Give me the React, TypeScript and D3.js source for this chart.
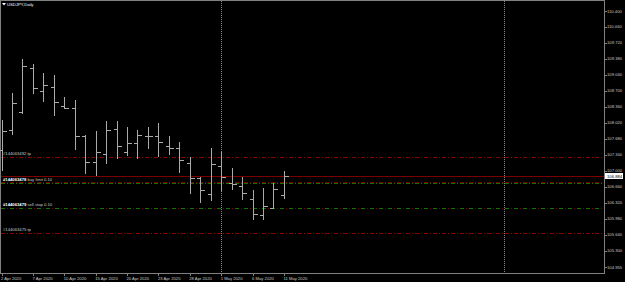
import React from "react";
import * as d3 from "d3";

const symbolTitle = "USDJPY,Daily";

const barDates = [
  "2 Apr 2020", "3 Apr 2020", "6 Apr 2020", "7 Apr 2020", "8 Apr 2020", "9 Apr 2020", "10 Apr 2020",
  "13 Apr 2020", "14 Apr 2020", "15 Apr 2020", "16 Apr 2020", "17 Apr 2020", "20 Apr 2020", "21 Apr 2020",
  "22 Apr 2020", "23 Apr 2020", "24 Apr 2020", "27 Apr 2020", "28 Apr 2020", "29 Apr 2020", "30 Apr 2020",
  "1 May 2020", "4 May 2020", "5 May 2020", "6 May 2020", "7 May 2020", "8 May 2020", "11 May 2020",
];
const opens = [107.446, 107.871, 108.247, 109.195, 108.7, 108.791, 108.388, 108.345, 107.744, 107.191,
  107.361, 107.892, 107.41, 107.601, 107.744, 107.75, 107.531, 107.482, 107.164, 106.845, 106.505,
  107.106, 106.739, 106.675, 106.399, 106.059, 106.22, 106.484];
const highs = [108.084, 108.664, 109.374, 109.267, 109.089, 109.046, 108.566, 108.509, 107.765, 107.85,
  108.062, 108.062, 107.941, 107.871, 107.929, 108.026, 107.744, 107.61, 107.304, 106.866, 107.482,
  107.41, 107.057, 106.879, 106.596, 106.632, 106.751, 107.0];
const lows = [107.021, 107.78, 108.239, 108.664, 108.494, 108.196, 108.332, 107.461, 106.964, 106.915,
  107.164, 107.283, 107.34, 107.27, 107.495, 107.325, 107.355, 106.972, 106.539, 106.335, 106.384,
  106.596, 106.611, 106.399, 105.974, 105.974, 106.207, 106.433];
const closes = [107.85, 108.451, 109.238, 108.77, 108.821, 108.473, 108.345, 107.744, 107.198, 107.404,
  107.871, 107.531, 107.589, 107.765, 107.75, 107.61, 107.482, 107.234, 106.845, 106.596, 107.142,
  106.879, 106.724, 106.526, 106.086, 106.256, 106.617, 106.884];

const priceTickLabels = ["110.400", "110.060", "109.720", "109.380", "109.040", "108.700", "108.360",
  "108.020", "107.680", "107.340", "107.000", "106.660", "106.320", "105.980", "105.640", "105.300", "104.955"];
const bidPrice = 106.884;
const bidLabel = "106.884";

const tpPrices = [107.298, 105.683];
const tpLabels = ["#144063492 tp", "#144063475 tp"];
const orderPrices = [106.745, 106.214];
const orderIds = ["#144063478", "#144063479"];
const orderTexts = [" buy limit 0.10", " sell stop 0.10"];

const dateTickEvery = 3;
const separatorIndices = [21, 48];

const W = 625;
const H = 282;
const axisX = 604;
const axisY = 273;
const FONT = "'Liberation Sans', Arial, sans-serif";

export default function App() {
  const x = d3.scaleLinear().domain([0, 27]).range([1.5, 283.9]);
  const y = d3.scaleLinear().domain([104.955, 110.4]).range([267.2, 11]);
  const px = (v: number) => Math.round(v) + 0.5;
  const tick = 3.5;
  const barColor = "#aaaaaa";
  const textColor = "#c8c8c8";

  return (
    <div style={{ position: "fixed", left: 0, top: 0, width: W, height: H }}>
      <svg width={W} height={H} style={{ display: "block", background: "#000" }} shapeRendering="crispEdges">
        <rect x={0} y={0} width={W} height={H} fill="#000" />
        {/* frame */}
        <line x1={0.5} y1={0.5} x2={axisX + 0.5} y2={0.5} stroke="#808080" />
        <line x1={0.5} y1={0} x2={0.5} y2={axisY + 0.5} stroke="#808080" />
        <line x1={axisX + 0.5} y1={0} x2={axisX + 0.5} y2={axisY + 0.5} stroke="#808080" />
        <line x1={0} y1={axisY + 0.5} x2={axisX + 0.5} y2={axisY + 0.5} stroke="#808080" />

        {/* separators */}
        {separatorIndices.map((s, i) => (
          <line key={"sep" + i} x1={px(x(s))} y1={1} x2={px(x(s))} y2={axisY}
            stroke="#8a8a8a" strokeDasharray="1,1" />
        ))}

        {/* tp levels */}
        {tpPrices.map((p, i) => (
          <g key={"tp" + i}>
            <line x1={1} x2={axisX} y1={px(y(p))} y2={px(y(p))} stroke="#8c0000" strokeDasharray="4,2,1,2" />
            <text x={3} y={y(p) - 2} fill={textColor} fontSize={4.2} fontFamily={FONT}>{tpLabels[i]}</text>
          </g>
        ))}

        {/* order levels */}
        {orderPrices.map((p, i) => (
          <g key={"ord" + i}>
            <line x1={1} x2={axisX} y1={px(y(p))} y2={px(y(p))} stroke="#1d6e00" strokeDasharray="4,2,1,2" />
            <line x1={1} x2={axisX} y1={px(y(p)) + (i === 0 ? -1 : 0)} y2={px(y(p)) + (i === 0 ? -1 : 0)}
              stroke="#780000" strokeDasharray={i === 0 ? "4,2,1,2" : "1,8"} strokeDashoffset={i === 0 ? 0 : 3} />
            <text x={3} y={y(p) - 2} fill={textColor} fontSize={4.2} fontFamily={FONT}>
              <tspan fill="#ffffff" fontWeight="bold">{orderIds[i]}</tspan>
              <tspan>{orderTexts[i]}</tspan>
            </text>
          </g>
        ))}

        {/* bid line */}
        <line x1={1} x2={axisX} y1={px(y(bidPrice))} y2={px(y(bidPrice))} stroke="#7a0000" />

        {/* OHLC bars */}
        {barDates.map((d, i) => {
          const cx = px(x(i));
          return (
            <g key={"bar" + i} stroke={barColor}>
              <line x1={cx} x2={cx} y1={Math.round(y(highs[i]))} y2={Math.round(y(lows[i])) + 1} />
              <line x1={Math.round(cx - tick)} x2={cx} y1={px(y(opens[i]))} y2={px(y(opens[i]))} />
              <line x1={cx} x2={Math.round(cx + tick) + 0.5} y1={px(y(closes[i]))} y2={px(y(closes[i]))} />
            </g>
          );
        })}

        {/* title */}
        <path d="M2,3 L6,3 L4,5.5 Z" fill="#ffffff" shapeRendering="auto" />
        <text x={7} y={4.5} fill="#ffffff" fontSize={4.2} fontFamily={FONT} dominantBaseline="central">{symbolTitle}</text>

        {/* price axis */}
        {priceTickLabels.map((t, i) => {
          const yy = y(+t);
          return (
            <g key={"pt" + i}>
              <line x1={axisX} x2={axisX + 2.5} y1={px(yy)} y2={px(yy)} stroke="#808080" />
              <text x={607} y={yy} fill={textColor} fontSize={4.2} fontFamily={FONT} dominantBaseline="central">{t}</text>
            </g>
          );
        })}
        <rect x={605} y={Math.round(y(bidPrice)) - 3} width={18} height={6} fill="#ffffff" />
        <text x={607} y={y(bidPrice)} fill="#000" fontSize={4.2} fontFamily={FONT} dominantBaseline="central">{bidLabel}</text>

        {/* date axis */}
        {barDates.map((d, i) => i % dateTickEvery === 0 ? (
          <g key={"dt" + i}>
            <line x1={px(x(i))} x2={px(x(i))} y1={axisY} y2={axisY + 2.5} stroke="#808080" />
            <text x={x(i) - 0.5} y={278} fill={textColor} fontSize={4.2} fontFamily={FONT} dominantBaseline="central">{d}</text>
          </g>
        ) : null)}
      </svg>
    </div>
  );
}
